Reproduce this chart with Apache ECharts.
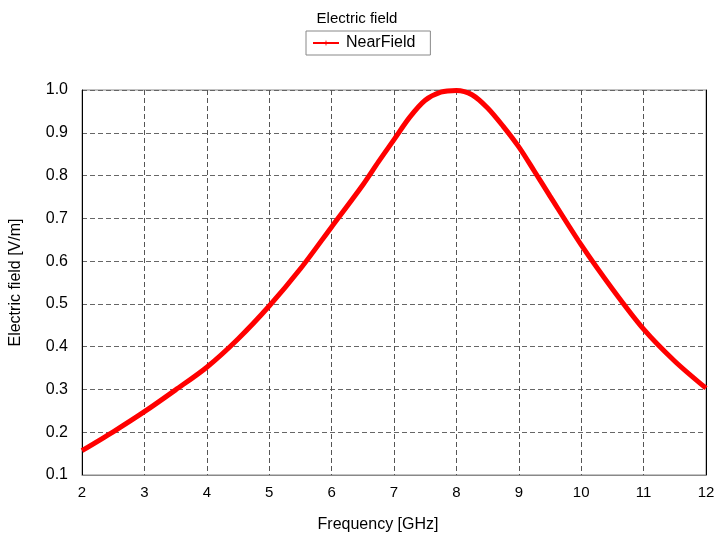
<!DOCTYPE html>
<html>
<head>
<meta charset="utf-8">
<script src="https://cdn.jsdelivr.net/npm/echarts@6/dist/echarts.min.js"></script>
<style>html,body{margin:0;padding:0;background:#fff;}#c{width:714px;height:536px;}</style>
</head>
<body>
<div id="c"></div>
<script>
var freqs = [2.0, 2.5, 3.0, 3.5, 4.0, 4.5, 5.0, 5.5, 6.0, 6.5, 6.75, 7.0, 7.25, 7.5, 7.75, 8.0, 8.25, 8.5, 8.75, 9.0, 9.25, 9.5, 10.0, 10.5, 11.0, 11.5, 12.0];
var nearField = [0.157, 0.201, 0.248, 0.299, 0.352, 0.418, 0.495, 0.582, 0.68, 0.778, 0.832, 0.884, 0.936, 0.976, 0.995, 0.999, 0.989, 0.958, 0.915, 0.867, 0.81, 0.752, 0.638, 0.535, 0.441, 0.366, 0.303];
var seriesName = 'NearField';
var chartTitle = 'Electric field';
var xName = 'Frequency [GHz]';
var yName = 'Electric field [V/m]';

var data = freqs.map(function (f, i) { return [f, nearField[i]]; });
var font = 'Arial, "Liberation Sans", sans-serif';
var chart = echarts.init(document.getElementById('c'));
chart.setOption({
  animation: false,
  backgroundColor: '#fff',
  title: {
    text: chartTitle, left: 'center', top: 6,
    textStyle: { fontFamily: font, fontSize: 15, fontWeight: 'normal', color: '#000' }
  },
  legend: {
    top: 31, left: 306,
    data: [seriesName],
    borderColor: '#888', borderWidth: 1, borderRadius: 0,
    padding: [4, 15, 4, 6],
    itemWidth: 26, itemHeight: 8, itemGap: 8,
    textStyle: { fontFamily: font, fontSize: 16, color: '#000', padding: [0, 0, 0, 2] }
  },
  grid: { left: 82, right: 8, top: 90, bottom: 61, show: true, borderColor: '#888', borderWidth: 1,
    containLabel: false, outerBoundsMode: 'none' },
  xAxis: [{
    type: 'value', min: 2, max: 12, interval: 1,
    name: xName, nameLocation: 'middle', nameGap: 42,
    nameTextStyle: { fontFamily: font, fontSize: 16, color: '#000', padding: [0, 32, 0, 0] },
    axisLine: { show: true, lineStyle: { color: '#888', width: 1 } },
    axisTick: { show: false },
    axisLabel: { fontFamily: font, fontSize: 15, color: '#000', margin: 10 },
    splitLine: { show: true, lineStyle: { color: '#555', type: [5, 3], width: 1 } }
  }],
  yAxis: [{
    type: 'value', min: 0.1, max: 1.0, interval: 0.1,
    name: yName, nameLocation: 'middle', nameGap: 58, nameRotate: 90,
    nameTextStyle: { fontFamily: font, fontSize: 16, color: '#000' },
    axisLine: { show: true, onZero: false, lineStyle: { color: '#000', width: 1 } },
    axisTick: { show: false },
    axisLabel: { fontFamily: font, fontSize: 16, color: '#000', margin: 14,
      formatter: function (v) { return v.toFixed(1); } },
    splitLine: { show: true, lineStyle: { color: '#666', type: [5, 3], width: 1 } }
  }, {
    type: 'value', min: 0.1, max: 1.0, interval: 0.1, position: 'right',
    axisLine: { show: true, onZero: false, lineStyle: { color: '#000', width: 1 } },
    axisTick: { show: false }, axisLabel: { show: false }, splitLine: { show: false }
  }],
  series: [{
    name: seriesName, type: 'line', data: data, smooth: 0.3,
    showSymbol: false,
    symbol: 'path://M0,-5L1,-1L5,0L1,1L0,5L-1,1L-5,0L-1,-1Z', symbolSize: 7,
    lineStyle: { color: '#ff0000', width: 5 },
    itemStyle: { color: '#ff0000' },
    z: 5
  }]
});
</script>
</body>
</html>
